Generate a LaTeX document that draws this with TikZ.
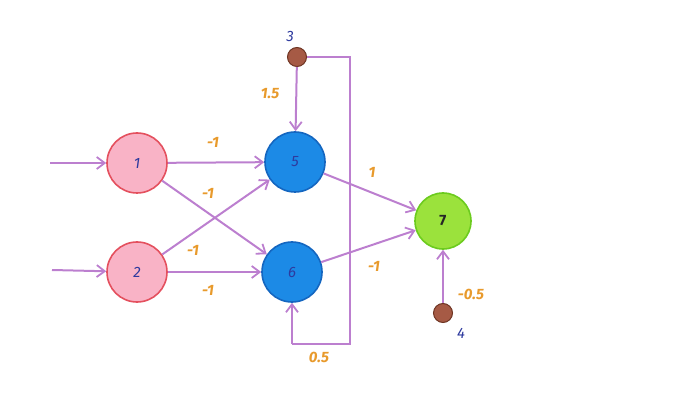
\documentclass[tikz,border=0pt]{standalone}
\usepackage{fontspec}
\setmainfont{Fira Sans}
\usetikzlibrary{arrows.meta}
\definecolor{edgec}{HTML}{BC7FCF}
\definecolor{lblc}{HTML}{E89A2C}
\definecolor{numc}{HTML}{2E3A9E}
\definecolor{pinkf}{HTML}{F9B3C6}
\definecolor{pinkd}{HTML}{E4505E}
\definecolor{bluef}{HTML}{1C8AE6}
\definecolor{blued}{HTML}{1466C0}
\definecolor{limef}{HTML}{9BE23C}
\definecolor{limed}{HTML}{6CCB1E}
\definecolor{brownf}{HTML}{A65A45}
\definecolor{brownd}{HTML}{6E3422}
\tikzset{
  inpnode/.style={circle,draw=pinkd,fill=pinkf,line width=1.6pt,minimum size=60pt,inner sep=0pt,text=numc,font=\itshape\fontsize{15}{15}\selectfont},
  hidnode/.style={circle,draw=blued,fill=bluef,line width=1.6pt,minimum size=60pt,inner sep=0pt,text=numc,font=\itshape\fontsize{15}{15}\selectfont},
  outnode/.style={circle,draw=limed,fill=limef,line width=1.6pt,minimum size=56pt,inner sep=0pt,text=black!85,font=\bfseries\fontsize{15}{15}\selectfont},
  biasnode/.style={circle,draw=brownd,fill=brownf,line width=1pt,minimum size=19pt,inner sep=0pt},
  numlbl/.style={text=numc,font=\itshape\fontsize{15}{15}\selectfont},
  wlbl/.style={text=lblc,font=\bfseries\itshape\fontsize{15}{15}\selectfont},
  conn/.style={draw=edgec,line width=2pt,-{Straight Barb[length=8pt,width=12pt,line width=1.8pt]}},
  plain/.style={draw=edgec,line width=2pt},
}
\begin{document}
\begin{tikzpicture}[x=1pt,y=-1pt]
\useasboundingbox (0,0) rectangle (674,403);
\node[inpnode] (n1) at (137,163) {1};
\node[inpnode] (n2) at (137,272) {2};
\node[hidnode] (n5) at (295,162) {5};
\node[hidnode] (n6) at (292,272) {6};
\node[outnode] (n7) at (443,221) {7};
\node[biasnode] (n3) at (297,57) {};
\node[biasnode] (n4) at (443,313) {};
\node[numlbl] (l3) at (290,37) {3};
\node[numlbl] (l4) at (461,333) {4};
\coordinate (in1) at (50,163);
\coordinate (in2) at (52,270);
\coordinate (c1) at (350,57);
\coordinate (c2) at (350,344);
\coordinate (c3) at (292,344);
% edges
\draw[conn] (in1) -- (n1);
\draw[conn] (in2) -- (n2);
\draw[conn] (n1) -- (n5);
\draw[conn] (n1) -- (n6);
\draw[conn] (n2) -- (n5);
\draw[conn] (n2) -- (n6);
\draw[conn] (n3) -- (n5);
\draw[plain] (n3) -- (c1) -- (c2) -- (c3);
\draw[conn] (c3) -- (n6);
\draw[conn] (n5) -- (n7);
\draw[conn] (n6) -- (n7);
\draw[conn] (n4) -- (n7);
% weights
\node[wlbl] (w15) at (213,142) {-1};
\node[wlbl] (w16) at (208,193) {-1};
\node[wlbl] (w25) at (193,250) {-1};
\node[wlbl] (w26) at (208,290) {-1};
\node[wlbl] (w35) at (270,94) {1.5};
\node[wlbl] (w36) at (319,357) {0.5};
\node[wlbl] (w57) at (372,172) {1};
\node[wlbl] (w67) at (374,266) {-1};
\node[wlbl] (w47) at (471,294) {-0.5};
\end{tikzpicture}
\end{document}
